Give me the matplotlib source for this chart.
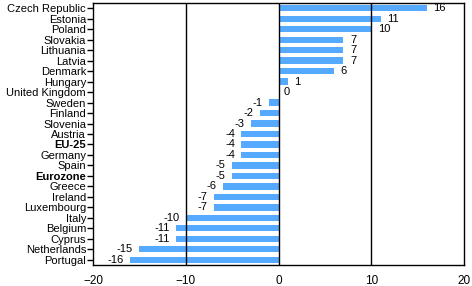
import matplotlib
matplotlib.use('Agg')
from matplotlib import pyplot as plt
import numpy as np

countries = ['Czech Republic', 'Estonia', 'Poland', 'Slovakia', 'Lithuania', 'Latvia',
             'Denmark', 'Hungary', 'United Kingdom', 'Sweden', 'Finland', 'Slovenia',
             'Austria', 'EU-25', 'Germany', 'Spain', 'Eurozone', 'Greece', 'Ireland',
             'Luxembourg', 'Italy', 'Belgium', 'Cyprus', 'Netherlands', 'Portugal']
values = [16, 11, 10, 7, 7, 7, 6, 1, 0, -1, -2, -3, -4, -4, -4, -5, -5, -6, -7, -7,
          -10, -11, -11, -15, -16]
bold_rows = ['EU-25', 'Eurozone']

BAR_COLOR = '#55aaff'

plt.rcParams['font.family'] = ['Liberation Sans', 'DejaVu Sans']

fig = plt.figure(figsize=(4.72, 2.86), dpi=100)
ax = fig.add_axes([93 / 472, 21 / 286, 371 / 472, 262 / 286])

y = np.arange(len(countries))
ax.barh(y, values, height=0.6, color=BAR_COLOR, zorder=2)

# Grid lines at -10, 0, 10 #
for xv in (-10, 0, 10):
    ax.axvline(xv, color='k', linewidth=1, zorder=3)

# Value labels beside bars #
for yi, v in zip(y, values):
    if v > 0:
        ax.text(v + 0.7, yi, str(v), va='center', ha='left', fontsize=8)
    elif v == 0:
        ax.text(0.6, yi, str(v), va='center', ha='left', fontsize=8)
    else:
        ax.text(v - 0.7, yi, str(v), va='center', ha='right', fontsize=8)

ax.set_xlim(-20, 20)
ax.set_ylim(len(countries) - 0.5, -0.5)
ax.set_xticks([-20, -10, 0, 10, 20])
ax.set_yticks(y)
ax.set_yticklabels(countries, fontsize=8)
for lbl in ax.get_yticklabels():
    if lbl.get_text() in bold_rows:
        lbl.set_fontweight('bold')
ax.tick_params(axis='x', length=0, labelsize=8.5, pad=7)
ax.tick_params(axis='y', length=4, width=1, pad=1)

for s in ax.spines.values():
    s.set_linewidth(1)

fig.savefig('out.png', dpi=100)
